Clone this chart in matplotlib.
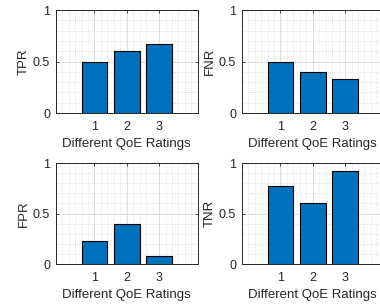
import matplotlib.pyplot as plt
from matplotlib.ticker import MultipleLocator

plt.rcParams['font.family'] = ['Liberation Sans', 'DejaVu Sans']

ratings = [1, 2, 3]
tpr = [0.5, 0.6, 0.667]
fnr = [0.5, 0.4, 0.333]
fpr = [0.23, 0.4, 0.083]
tnr = [0.77, 0.6, 0.917]

panels = [
    ('TPR', tpr, [0.1466, 0.6307, 0.374, 0.3366]),
    ('FNR', fnr, [0.636, 0.6307, 0.374, 0.3366]),
    ('FPR', fpr, [0.1466, 0.137, 0.374, 0.330]),
    ('TNR', tnr, [0.636, 0.137, 0.374, 0.330]),
]

BLUE = '#0072BD'
DARK = '#262626'

fig = plt.figure(figsize=(3.8, 3.06), dpi=100)

for name, vals, pos in panels:
    ax = fig.add_axes(pos)
    ax.bar(ratings, vals, width=0.8, color=BLUE, edgecolor='black',
           linewidth=0.8, zorder=3)
    ax.set_xlim(-0.2, 4.2)
    ax.set_ylim(0, 1)
    ax.set_xticks(ratings)
    ax.set_yticks([0, 0.5, 1])
    ax.set_yticklabels(['0', '0.5', '1'])
    ax.xaxis.set_minor_locator(MultipleLocator(0.2))
    ax.yaxis.set_minor_locator(MultipleLocator(0.1))
    ax.grid(True, which='major', color='#dcdcdc', linewidth=0.7, zorder=0)
    ax.grid(True, which='minor', color='#c8c8c8', linewidth=0.5,
            linestyle=(0, (1, 2)), zorder=0)
    ax.set_axisbelow(True)
    ax.tick_params(which='major', direction='in', length=2.5, width=0.6,
                   colors=DARK, labelsize=9, top=True, right=True)
    ax.tick_params(axis='x', which='major', pad=6)
    ax.tick_params(axis='y', which='major', pad=4)
    ax.tick_params(which='minor', length=0)
    for s in ax.spines.values():
        s.set_color(DARK)
        s.set_linewidth(0.7)
    ax.set_ylabel(name, fontsize=9.5, color=DARK, labelpad=2)
    ax.set_xlabel('Different QoE Ratings', fontsize=9.5, color=DARK, labelpad=3)

fig.savefig('out.png', dpi=100)
